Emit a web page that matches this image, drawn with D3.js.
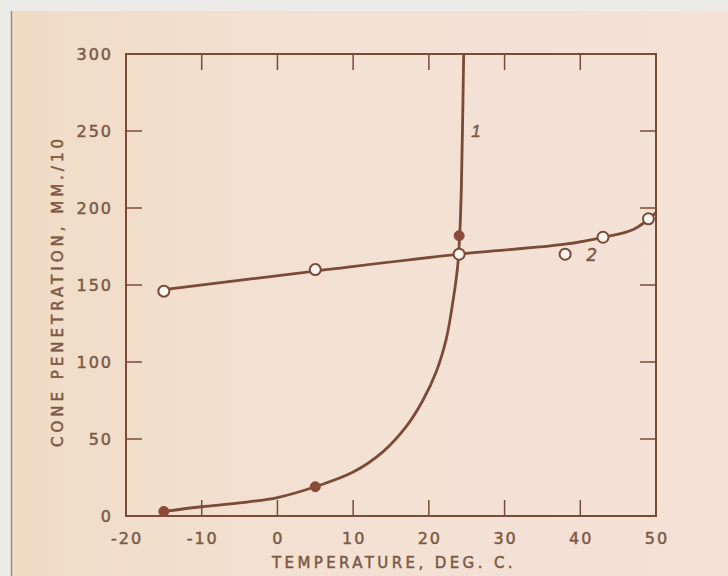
<!DOCTYPE html>
<html>
<head>
<meta charset="utf-8">
<script src="https://cdn.jsdelivr.net/npm/d3@7"></script>
<style>
  html, body { margin: 0; padding: 0; background: #ece9e4; }
  svg { display: block; }
  text { font-family: "DejaVu Sans", sans-serif; fill: #7d5a46; stroke: #7d5a46; stroke-width: 0.5px; }
</style>
</head>
<body>
<svg width="728" height="576"></svg>
<script>
// ticks
const xTicks = [-20, -10, 0, 10, 20, 30, 40, 50];
const yTicks = [0, 50, 100, 150, 200, 250, 300];

// curve 1 (filled points) and the hand-drawn curve through them
const pts1 = [[-15, 3], [5, 19], [24, 182]];
const curve1 = [[-15, 3], [-10, 6], [-5, 8.5], [0, 12], [5, 19], [10, 28.5], [14, 42], [17, 58],
  [19.2, 75], [21, 94], [22.3, 115], [23.2, 140], [23.8, 162], [24.1, 185], [24.3, 215], [24.6, 300]];

// curve 2 (open points) and its drawn line
const pts2 = [[-15, 146], [5, 160], [24, 170], [38, 170], [43, 181], [49, 193]];
const curve2 = [[-15, 147], [5, 159], [24, 170], [38, 176.5], [43, 181], [47, 186], [50, 197]];

const ink = "#7a4b36";

const svg = d3.select("svg");

// paper
const defs = svg.append("defs");
const grad = defs.append("linearGradient").attr("id", "paper")
  .attr("x1", 0).attr("x2", 1).attr("y1", 0).attr("y2", 0);
grad.append("stop").attr("offset", "0%").attr("stop-color", "#f0dcc5");
grad.append("stop").attr("offset", "45%").attr("stop-color", "#f3e1d4");
grad.append("stop").attr("offset", "100%").attr("stop-color", "#f5e1d7");

svg.append("rect").attr("x", 0).attr("y", 0).attr("width", 728).attr("height", 576)
  .attr("fill", "#ecebe7");
svg.append("rect").attr("x", 11).attr("y", 11).attr("width", 717).attr("height", 565)
  .attr("fill", "url(#paper)");
svg.append("line").attr("x1", 11.5).attr("x2", 11.5).attr("y1", 11).attr("y2", 576)
  .attr("stroke", "#a88a76").attr("stroke-width", 1.5);

const m = { left: 126, right: 656, top: 54, bottom: 516 };

const x = d3.scaleLinear().domain([-20, 50]).range([m.left, m.right]);
const y = d3.scaleLinear().domain([0, 300]).range([m.bottom, m.top]);

const g = svg.append("g");

// frame
g.append("rect")
  .attr("x", m.left).attr("y", m.top)
  .attr("width", m.right - m.left).attr("height", m.bottom - m.top)
  .attr("fill", "none").attr("stroke", ink).attr("stroke-width", 2);

// inward ticks on all four sides
const tl = 16;
const innerX = xTicks.slice(1, -1), innerY = yTicks.slice(1, -1);
g.selectAll(".tb").data(innerX).join("line")
  .attr("x1", d => x(d)).attr("x2", d => x(d))
  .attr("y1", m.bottom).attr("y2", m.bottom - tl)
  .attr("stroke", ink).attr("stroke-width", 1.5);
g.selectAll(".tt").data(innerX).join("line")
  .attr("x1", d => x(d)).attr("x2", d => x(d))
  .attr("y1", m.top).attr("y2", m.top + tl)
  .attr("stroke", ink).attr("stroke-width", 1.5);
g.selectAll(".tl").data(innerY).join("line")
  .attr("x1", m.left).attr("x2", m.left + tl)
  .attr("y1", d => y(d)).attr("y2", d => y(d))
  .attr("stroke", ink).attr("stroke-width", 1.5);
g.selectAll(".tr").data(innerY).join("line")
  .attr("x1", m.right).attr("x2", m.right - tl)
  .attr("y1", d => y(d)).attr("y2", d => y(d))
  .attr("stroke", ink).attr("stroke-width", 1.5);

// tick labels
g.selectAll(".xl").data(xTicks).join("text")
  .attr("x", d => x(d) + 1).attr("y", 544)
  .attr("text-anchor", "middle")
  .attr("font-size", 16).attr("letter-spacing", 2)
  .text(d => d);
g.selectAll(".yl").data(yTicks).join("text")
  .attr("x", 113).attr("y", d => y(d) + 6)
  .attr("text-anchor", "end")
  .attr("font-size", 16).attr("letter-spacing", 2)
  .text(d => d);

// axis titles
g.append("text")
  .attr("x", 394).attr("y", 568)
  .attr("text-anchor", "middle")
  .attr("font-size", 15).attr("letter-spacing", 3.4)
  .text("TEMPERATURE, DEG. C.");
g.append("text")
  .attr("transform", "translate(63,291) rotate(-90)")
  .attr("text-anchor", "middle")
  .attr("font-size", 15).attr("letter-spacing", 4)
  .text("CONE PENETRATION, MM./10");

// curves
const line = d3.line().x(d => x(d[0])).y(d => y(d[1])).curve(d3.curveCatmullRom.alpha(0.5));

g.append("path").datum(curve1)
  .attr("d", line).attr("fill", "none")
  .attr("stroke", ink).attr("stroke-width", 2.8);
g.append("path").datum(curve2)
  .attr("d", line).attr("fill", "none")
  .attr("stroke", ink).attr("stroke-width", 2.8);

// markers
g.selectAll(".p1").data(pts1).join("circle")
  .attr("cx", d => x(d[0])).attr("cy", d => y(d[1])).attr("r", 5)
  .attr("fill", "#8c4a38").attr("stroke", "#8c4a38").attr("stroke-width", 1);
g.selectAll(".p2").data(pts2).join("circle")
  .attr("cx", d => x(d[0])).attr("cy", d => y(d[1])).attr("r", 5.5)
  .attr("fill", "#fbf4ef").attr("stroke", ink).attr("stroke-width", 2);

// curve labels
g.append("text")
  .attr("x", x(25.6)).attr("y", y(250) + 6)
  .attr("font-size", 17).attr("font-style", "italic")
  .style("font-family", "'Liberation Sans', sans-serif")
  .text("1");
g.append("text")
  .attr("x", x(40.8)).attr("y", y(170) + 7)
  .attr("font-size", 17).attr("font-style", "italic")
  .text("2");
</script>
</body>
</html>
